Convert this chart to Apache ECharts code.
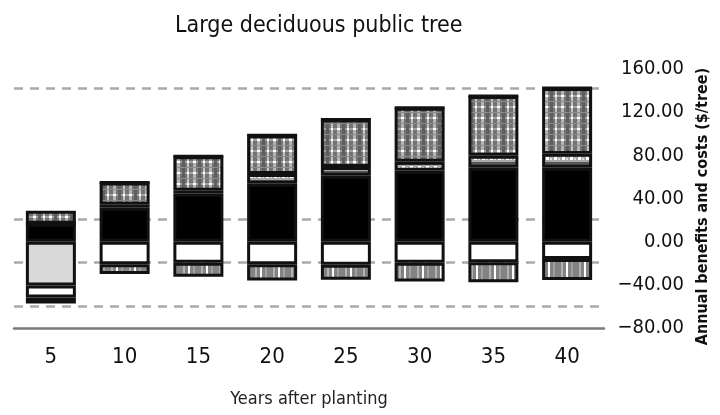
<!DOCTYPE html>
<html>
<head>
<meta charset="utf-8">
<script src="https://cdn.jsdelivr.net/npm/echarts@6/dist/echarts.min.js"></script>
<style>html,body{margin:0;padding:0;background:#fff}#chart{width:720px;height:415px}</style>
</head>
<body>
<div id="chart"></div>
<script>
var years = ['5', '10', '15', '20', '25', '30', '35', '40'];
// benefits, stacked up from zero
var benefitBase = [16.7, 31.5, 44.4, 53.7, 61.0, 65.7, 68.5, 68.5];
var benefitBand = [0, 2.8, 2.8, 9.0, 8.3, 8.3, 11.0, 13.0];
var benefitTop = [12.0, 20.5, 32.0, 36.0, 44.0, 50.0, 55.5, 61.0];
// costs, stacked down from zero
var costPlanting = [-40.7, 0, 0, 0, 0, 0, 0, 0];
var costMaint = [-11.0, -21.0, -19.5, -21.0, -21.3, -19.5, -19.0, -16.0];
var costOther = [-5.5, -9.0, -13.0, -15.0, -14.0, -17.5, -18.5, -19.5];
// dashed reference lines in the scan
var refLines = [142, 20.5, -19.5, -59.5];

var FONT = '"DejaVu Sans Condensed", "Liberation Sans Narrow", sans-serif';

function tile(w, h, draw) {
    var c = document.createElement('canvas');
    c.width = w; c.height = h;
    draw(c.getContext('2d'));
    return {image: c, repeat: 'repeat'};
}

var plaid = tile(16, 11, function (ctx) {
    ctx.fillStyle = '#727272'; ctx.fillRect(0, 0, 16, 11);
    ctx.fillStyle = '#a2a2a2'; ctx.fillRect(0, 7, 16, 2);
    ctx.fillStyle = '#5e5e5e'; ctx.fillRect(6, 0, 3, 11);
    ctx.fillStyle = '#b4b4b4'; ctx.fillRect(1, 0, 3, 11);
    ctx.fillStyle = '#c6c6c6'; ctx.fillRect(11, 0, 2, 11);
    ctx.fillStyle = '#ffffff'; ctx.fillRect(1, 7, 3, 2); ctx.fillRect(11, 7, 2, 2);
    ctx.fillStyle = '#8c8c8c'; ctx.fillRect(0, 2, 16, 1);
});
var band = tile(8, 9, function (ctx) {
    ctx.fillStyle = '#a8a8a8'; ctx.fillRect(0, 0, 8, 9);
    ctx.fillStyle = '#555555'; ctx.fillRect(0, 0, 8, 3);
    ctx.fillStyle = '#ffffff'; ctx.fillRect(2, 4, 3, 3);
    ctx.fillStyle = '#e0e0e0'; ctx.fillRect(6, 5, 2, 2);
});
var stripes = tile(18, 4, function (ctx) {
    ctx.fillStyle = '#838383'; ctx.fillRect(0, 0, 18, 4);
    ctx.fillStyle = '#b2b2b2'; ctx.fillRect(3, 0, 2, 4);
    ctx.fillStyle = '#ffffff'; ctx.fillRect(8, 0, 2, 4);
    ctx.fillStyle = '#a0a0a0'; ctx.fillRect(13, 0, 2, 4);
});

function seg(name, data, color) {
    return {
        name: name,
        type: 'bar',
        stack: 'total',
        barWidth: 50,
        z: 3,
        data: data,
        itemStyle: {color: color, borderColor: '#111', borderWidth: 3}
    };
}

var chart = echarts.init(document.getElementById('chart'));
var option = {
    animation: false,
    title: {
        text: 'Large deciduous public tree',
        left: 170,
        top: 10,
        textStyle: {fontFamily: FONT, fontSize: 23, fontWeight: 'normal', color: '#111'}
    },
    grid: {left: 14, right: 116, top: 69, bottom: 87},
    xAxis: {
        type: 'category',
        data: years,
        name: 'Years after planting',
        nameLocation: 'middle',
        nameGap: 62,
        nameTextStyle: {fontFamily: FONT, fontSize: 18, color: '#222'},
        axisLine: {onZero: false, lineStyle: {color: '#7a7a7a', width: 2.5}},
        axisTick: {
            length: 7,
            lineStyle: {color: '#777', width: 2},
            interval: function (i) { return [2, 3, 4, 6, 7].indexOf(i) >= 0; }
        },
        axisLabel: {fontFamily: FONT, fontSize: 22, color: '#111', margin: 18},
        splitLine: {show: false}
    },
    yAxis: {
        type: 'value',
        position: 'right',
        min: -80,
        max: 160,
        interval: 40,
        name: 'Annual benefits and costs ($/tree)',
        nameLocation: 'middle',
        nameRotate: 90,
        nameGap: 91,
        nameTextStyle: {fontFamily: FONT, fontSize: 16, fontWeight: 'bold', color: '#111', padding: [0, 16, 0, 0]},
        axisLine: {show: false},
        axisTick: {show: false},
        splitLine: {show: false},
        axisLabel: {
            fontFamily: FONT, fontSize: 20, color: '#111', align: 'right', margin: 80,
            formatter: function (v) { return (v < 0 ? '\u2212' : '') + Math.abs(v).toFixed(2); }
        }
    },
    series: [
        {
            type: 'line',
            data: [],
            z: 1,
            silent: true,
            markLine: {
                z: 1,
                symbol: 'none',
                silent: true,
                label: {show: false},
                lineStyle: {type: [9, 7], color: '#a9a9a9', width: 2.5},
                data: refLines.map(function (v) { return {yAxis: v}; })
            }
        },
        seg('Benefit base', benefitBase, '#000'),
        seg('Benefit band', benefitBand, band),
        seg('Benefit top', benefitTop, plaid),
        seg('Planting cost', costPlanting, '#d9d9d9'),
        seg('Maintenance cost', costMaint, '#fff'),
        seg('Other cost', costOther, stripes)
    ]
};
chart.setOption(option);
</script>
</body>
</html>
